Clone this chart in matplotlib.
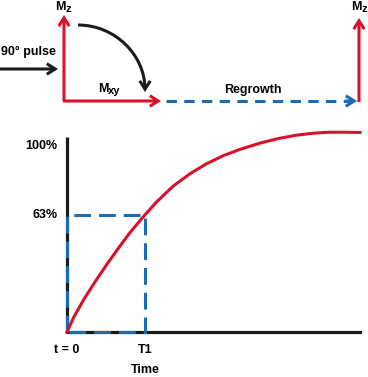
import numpy as np
import matplotlib
matplotlib.use("Agg")
import matplotlib.pyplot as plt
from matplotlib.patches import FancyArrowPatch
from matplotlib.path import Path

# T1 relaxation curve (time in units of T1, signal in %)
t_curve = [0.0, 0.086, 0.214, 0.363, 0.513, 0.663, 0.812, 1.0, 1.15, 1.363,
           1.577, 1.791, 2.004, 2.218, 2.496, 2.709, 2.923, 3.137, 3.35, 3.564, 3.756]
pct_curve = [0.0, 7.9, 17.4, 27.2, 36.5, 45.3, 53.7, 63.0, 70.0, 78.5,
             85.1, 90.5, 94.8, 98.2, 101.8, 104.0, 105.7, 106.8, 107.4, 107.4, 107.3]

t1 = 1.0
pct_t1 = 63
y_ticks = [100, 63]
y_tick_labels = ["100%", "63%"]
x_ticks = [0, t1]
x_tick_labels = ["t = 0", "T1"]

RED = "#d9102b"
BLUE = "#1b6db3"
BLACK = "#1a1a1a"
FONT = ["Liberation Sans Narrow", "Liberation Sans", "DejaVu Sans"]
FS = 9

plt.rcParams["font.family"] = FONT
plt.rcParams["font.weight"] = "bold"

W, H = 368, 377
fig = plt.figure(figsize=(W / 100, H / 100), dpi=100)
fig.patch.set_facecolor("white")

# ---- lower chart ----
x_left, x_right, y_base = 67, 360, 332
px_per_t = 78.0
px_per_pct = 1.86
ax = fig.add_axes([x_left / W, (H - y_base) / H,
                   (x_right - x_left) / W, 205 / H])
ax.set_xlim(0, (x_right - x_left) / px_per_t)
ax.set_ylim(0, 205 / px_per_pct)
ax.patch.set_alpha(0)
for s in ["top", "right"]:
    ax.spines[s].set_visible(False)
for s in ["left", "bottom"]:
    ax.spines[s].set_linewidth(2.3)
    ax.spines[s].set_color(BLACK)
ax.spines["left"].set_bounds(0, (y_base - 137) / px_per_pct)
ax.spines["left"].set_capstyle("butt")

ax.set_yticks(y_ticks)
ax.set_yticklabels(y_tick_labels)
ax.set_xticks(x_ticks)
ax.set_xticklabels(x_tick_labels)
ax.tick_params(length=0, labelsize=FS)
ax.tick_params(axis="y", pad=7)
ax.tick_params(axis="x", pad=8.5)
for lab in ax.get_yticklabels():
    lab.set_va("center")

ax.set_xlabel("Time", fontsize=FS, fontweight="bold")
ax.xaxis.set_label_coords(t1 * px_per_t / (x_right - x_left), -0.155)

ax.plot([0, 0, t1, t1, 0], [0, pct_t1, pct_t1, 0, 0], color=BLUE, lw=2.2,
        dashes=(5.5, 2.6), solid_capstyle="butt", dash_capstyle="butt",
        clip_on=False, zorder=3)
ax.plot(t_curve, pct_curve, color=RED, lw=2.2, clip_on=False, zorder=4,
        solid_joinstyle="round")

# ---- upper diagram (pixel coordinates) ----
ov = fig.add_axes([0, 0, 1, 1])
ov.set_xlim(0, W)
ov.set_ylim(H, 0)
ov.axis("off")


def arrow(p0, p1, color, lw=2.2):
    a = FancyArrowPatch(p0, p1, arrowstyle="->,head_length=0.6,head_width=0.38",
                        mutation_scale=10, lw=lw, color=color,
                        shrinkA=0, shrinkB=0, joinstyle="miter", capstyle="butt")
    ov.add_patch(a)


def m_label(x, y, sub):
    ov.text(x, y, "M", fontsize=FS, fontweight="bold", ha="left", va="center")
    ov.text(x + 10, y + 2, sub, fontsize=FS - 1, fontweight="bold",
            ha="left", va="center")


# 90 degree pulse
arrow((0, 69), (58, 69), BLACK)
ov.text(1, 52, "90° pulse", fontsize=FS, fontweight="bold", ha="left", va="center")

# Mz / Mxy axes
arrow((64, 101), (64, 15), RED)
arrow((63, 101), (161, 101), RED)
m_label(55, 7, "z")
m_label(98, 89, "xy")

# curved flip arrow
k = 0.552
r = 67
cx, cy = 78, 92
verts = [(cx, cy - r), (cx + k * r, cy - r), (cx + r, cy - k * r), (cx + r, cy)]
flip = FancyArrowPatch(path=Path(verts, [Path.MOVETO, Path.CURVE4, Path.CURVE4, Path.CURVE4]),
                       arrowstyle="->,head_length=0.6,head_width=0.38", mutation_scale=10,
                       lw=2.2, color=BLACK, joinstyle="miter", capstyle="butt")
ov.add_patch(flip)

# regrowth
ov.plot([166, 350], [101, 101], color=BLUE, lw=2.2, dashes=(3.4, 2.4),
        dash_capstyle="butt")
arrow((345, 101), (357, 101), BLUE)
ov.text(253, 90, "Regrowth", fontsize=FS, fontweight="bold", ha="center", va="center")

arrow((359, 102), (359, 18), RED)
m_label(351, 7, "z")

fig.savefig("out.png", dpi=100, facecolor="white")
plt.close(fig)
